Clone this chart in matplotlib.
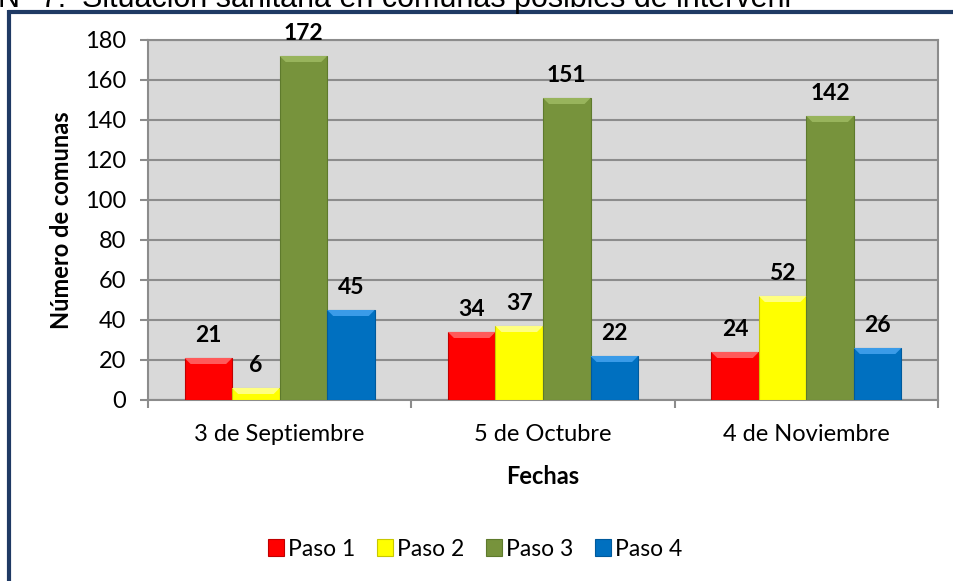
import numpy as np
import matplotlib
matplotlib.use("Agg")
import matplotlib.pyplot as plt
from matplotlib.patches import Patch, Polygon
from matplotlib.lines import Line2D

# --- Data ---------------------------------------------------------------------
fechas = ["3 de Septiembre", "5 de Octubre", "4 de Noviembre"]
pasos  = ["Paso 1", "Paso 2", "Paso 3", "Paso 4"]
paso_1 = [21, 34, 24]
paso_2 = [6, 37, 52]
paso_3 = [172, 151, 142]
paso_4 = [45, 22, 26]

# --- Style --------------------------------------------------------------------
COLORS = ["#FF0000", "#FFFF00", "#77933C", "#0070C0"]
LIGHT  = ["#FF5A5A", "#FFFF80", "#98B45C", "#3A9BE8"]
EDGES  = ["#C00000", "#C8C800", "#5E7A2C", "#005A9C"]
FONT   = "Lato"
GRAY   = "#8C8C8C"
BORDER = "#1F3A64"
FS     = 17

W, H = 954, 581
fig = plt.figure(figsize=(W / 100, H / 100), dpi=100)
fig.patch.set_facecolor("white")

ax = fig.add_axes([148 / W, 1 - 400 / H, (938 - 148) / W, (400 - 40) / H])
ax.set_facecolor("#D9D9D9")

ax.set_xlim(-0.5, 2.5)
ax.set_ylim(0, 180)
px_x = 3.0 / 790   # data units per pixel
px_y = 180.0 / 360

series = [paso_1, paso_2, paso_3, paso_4]
x = np.arange(len(fechas))
bar_w = 0.1805
for i, vals in enumerate(series):
    pos = x + (i - 1.5) * bar_w
    ax.bar(pos, vals, width=bar_w, color=COLORS[i], edgecolor=EDGES[i],
           linewidth=0.8, zorder=3)
    # rough bevel: lighter top band
    for px, v in zip(pos, vals):
        l, r = px - bar_w / 2, px + bar_w / 2
        bh = min(6 * px_y, v * 0.5)
        bw = 6 * px_x
        ax.add_patch(Polygon([[l, v], [r, v], [r - bw, v - bh], [l + bw, v - bh]],
                             closed=True, facecolor=LIGHT[i], edgecolor="none",
                             zorder=3.5))
        ax.annotate(str(v), (px, v), xytext=(0, 9), textcoords="offset points",
                    ha="center", va="bottom", fontsize=16.5, fontweight="bold",
                    family=FONT, color="black", zorder=4, annotation_clip=False)

ax.set_yticks(np.arange(0, 181, 20))
ax.yaxis.grid(True, color=GRAY, linewidth=1.5, zorder=1)
ax.set_axisbelow(True)

ax.set_xticks([-0.5, 0.5, 1.5, 2.5])
ax.set_xticklabels([])
ax.set_xticks(x, minor=True)
ax.set_xticklabels(fechas, minor=True, fontsize=FS, family=FONT)
ax.tick_params(axis="x", which="minor", length=0, pad=17)
ax.tick_params(axis="x", which="major", length=6, width=1.5, color=GRAY, direction="out")
ax.tick_params(axis="y", length=6, width=1.5, color=GRAY, direction="out",
               labelsize=FS, pad=10)
for lab in ax.get_yticklabels():
    lab.set_family(FONT)

for sp in ax.spines.values():
    sp.set_color(GRAY)
    sp.set_linewidth(1.5)

ax.set_ylabel("Número de comunas", fontsize=FS, fontweight="bold", family=FONT,
              labelpad=8)
fig.text(543 / W, 1 - 477 / H, "Fechas", ha="center", va="center",
         fontsize=FS, fontweight="bold", family=FONT)

handles = [Patch(facecolor=c, edgecolor=e, linewidth=0.8) for c, e in zip(COLORS, EDGES)]
fig.legend(handles, pasos, loc="center", bbox_to_anchor=(475 / W, 1 - 549 / H),
           ncol=4, frameon=False, prop={"family": FONT, "size": 16.5},
           handlelength=0.72, handleheight=0.72, handletextpad=0.15,
           columnspacing=0.95)

# partially cut title above the chart frame
fig.text(-0.002, 1 - 7 / H, "N° 7.", ha="left", va="baseline",
         fontsize=22, family="Liberation Sans")
fig.text(82 / W, 1 - 7 / H, "Situación sanitaria en comunas posibles de interveni",
         ha="left", va="baseline", fontsize=22, family="Liberation Sans")

# chart frame (top and left edges)
fig.add_artist(Line2D([8 / W, 953 / W], [1 - 11.5 / H, 1 - 11.5 / H],
                      color=BORDER, linewidth=3, transform=fig.transFigure,
                      solid_capstyle="butt"))
fig.add_artist(Line2D([9.5 / W, 9.5 / W], [1 - 10 / H, 0],
                      color=BORDER, linewidth=3, transform=fig.transFigure,
                      solid_capstyle="butt"))

fig.savefig("out.png", dpi=100)
